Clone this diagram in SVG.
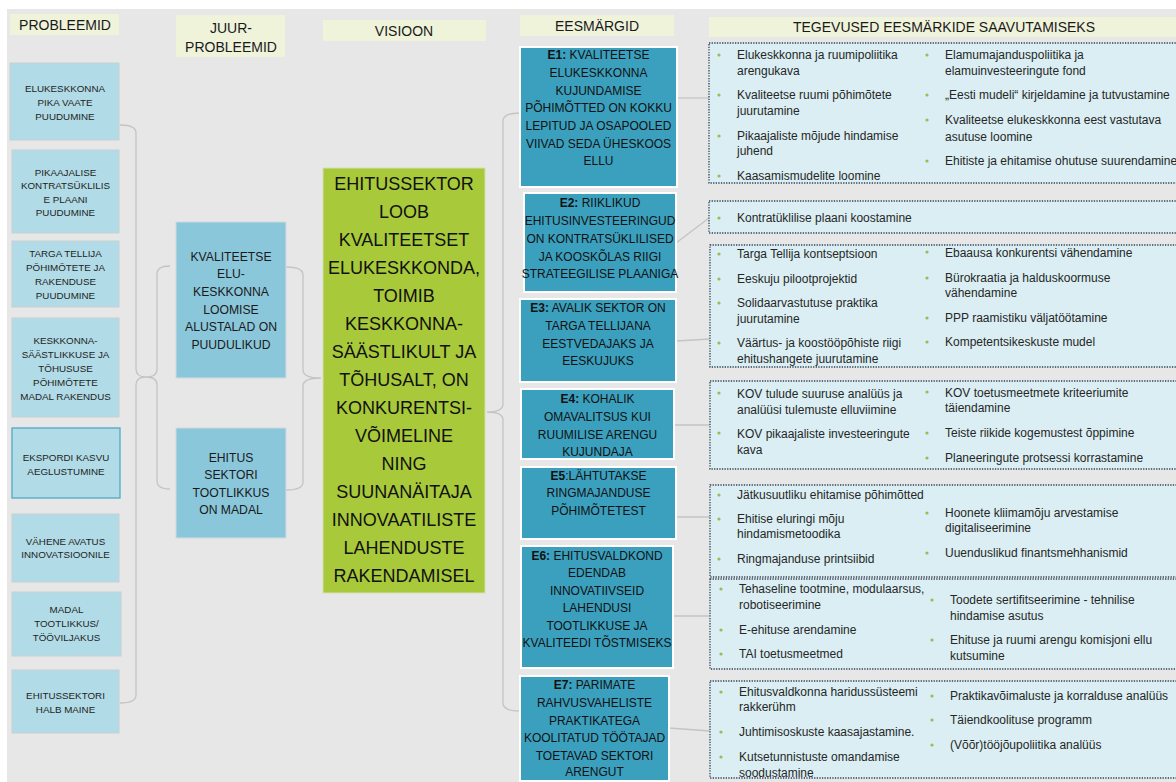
<svg xmlns="http://www.w3.org/2000/svg" width="1176" height="782" viewBox="0 0 1176 782">
<style>
text{font-family:"Liberation Sans",Arial,sans-serif}
.bg{fill:#e7e7e7}
.hdr{fill:#eff3da}
.ht{font-size:14px;fill:#1a1a1a;text-anchor:middle}
.prob{fill:#b1dbe6;stroke:#c9cfd2;stroke-width:1}
.prob2{fill:#b1dbe6;stroke:#4fa9c4;stroke-width:1.3}
.pt{font-size:9.8px;fill:#1f1f1f;text-anchor:middle}
.root{fill:#8bc7da;stroke:#d2dadd;stroke-width:1}
.rt{font-size:12.2px;fill:#1a1a1a;text-anchor:middle}
.vis{fill:#a8c93a;stroke:#d5e0b0;stroke-width:1}
.vt{font-size:18px;fill:#111;text-anchor:middle}
.goal{fill:#3ba0be;stroke:#ffffff;stroke-width:2}
.gt{font-size:12px;fill:#111;text-anchor:middle}
.act{fill:#daeef3;stroke:#2e4356;stroke-width:1.3;stroke-dasharray:1.3 1.3}
.at{font-size:12px;fill:#262626}
.dot{fill:#9bbb59}
.con{fill:none;stroke:#c4c4c4;stroke-width:1.3}
</style>
<rect x="0" y="0" width="1176" height="782" fill="#ffffff"/>
<rect class="bg" x="7" y="9" width="1169" height="773"/>

<!-- headers -->
<g id="hdr-probleemid"><rect class="hdr" x="10" y="14" width="109" height="21"/><text class="ht" x="65" y="29.5">PROBLEEMID</text></g>
<g id="hdr-juur"><rect class="hdr" x="176" y="15" width="109" height="42"/><text class="ht" x="231" y="33">JUUR-</text><text class="ht" x="231" y="52">PROBLEEMID</text></g>
<g id="hdr-visioon"><rect class="hdr" x="323" y="20" width="163" height="21"/><text class="ht" x="404" y="36">VISIOON</text></g>
<g id="hdr-eesmargid"><rect class="hdr" x="520" y="15" width="154" height="21"/><text class="ht" x="597" y="30.5">EESMÄRGID</text></g>
<g id="hdr-tegevused"><rect class="hdr" x="709" y="17" width="467" height="20"/><text class="ht" x="944" y="32">TEGEVUSED EESMÄRKIDE SAAVUTAMISEKS</text></g>

<!-- connectors -->
<g id="connectors">
<path class="con" d="M120 125 Q136 125 136 133 L136 369 Q136 377 146 377 Q136 377 136 385 L136 695 Q136 703 120 703"/>
<path class="con" d="M170 266 Q157 266 157 274 L157 369 Q157 377 146 377 Q157 377 157 385 L157 481 Q157 489 170 489"/>
<path class="con" d="M286 267 Q303 267 303 275 L303 370 Q303 378 321 378 Q303 378 303 386 L303 482 Q303 490 286 490"/>
<path class="con" d="M520 113 Q503 113 503 121 L503 404 Q503 412 487 412 Q503 412 503 420 L503 703 Q503 711 520 711"/>
<line class="con" x1="677" y1="98" x2="709" y2="98"/>
<line class="con" x1="676" y1="243" x2="709" y2="218"/>
<line class="con" x1="676" y1="341" x2="710" y2="339"/>
<line class="con" x1="674" y1="425" x2="710" y2="425"/>
<line class="con" x1="676" y1="517" x2="710" y2="517"/>
<line class="con" x1="673" y1="616" x2="712" y2="616"/>
<line class="con" x1="669" y1="728" x2="710" y2="731"/>
</g>

<!-- problems -->
<g id="p1"><rect class="prob" x="10" y="63" width="109" height="77"/><text class="pt" x="65" y="91.5">ELUKESKKONNA</text><text class="pt" x="65" y="105.5">PIKA VAATE</text><text class="pt" x="65" y="119.5">PUUDUMINE</text></g>
<g id="p2"><rect class="prob" x="12" y="150" width="107" height="83"/><text class="pt" x="65.5" y="175.5">PIKAAJALISE</text><text class="pt" x="65.5" y="189">KONTRATSÜKLILIS</text><text class="pt" x="65.5" y="202.5">E PLAANI</text><text class="pt" x="65.5" y="216">PUUDUMINE</text></g>
<g id="p3"><rect class="prob" x="12" y="241" width="107" height="66"/><text class="pt" x="65.5" y="256.5">TARGA TELLIJA</text><text class="pt" x="65.5" y="270.5">PÕHIMÕTETE JA</text><text class="pt" x="65.5" y="284.5">RAKENDUSE</text><text class="pt" x="65.5" y="298.5">PUUDUMINE</text></g>
<g id="p4"><rect class="prob" x="12" y="318" width="107" height="99"/><text class="pt" x="65.5" y="343.5">KESKKONNA-</text><text class="pt" x="65.5" y="357.5">SÄÄSTLIKKUSE JA</text><text class="pt" x="65.5" y="371.5">TÕHUSUSE</text><text class="pt" x="65.5" y="385.5">PÕHIMÕTETE</text><text class="pt" x="65.5" y="399.5">MADAL RAKENDUS</text></g>
<g id="p5"><rect class="prob2" x="12" y="428" width="108" height="70"/><text class="pt" x="66" y="460.5">EKSPORDI KASVU</text><text class="pt" x="66" y="474.5">AEGLUSTUMINE</text></g>
<g id="p6"><rect class="prob" x="12" y="514" width="107" height="68"/><text class="pt" x="65.5" y="544.5">VÄHENE AVATUS</text><text class="pt" x="65.5" y="557.5">INNOVATSIOONILE</text></g>
<g id="p7"><rect class="prob" x="12" y="592" width="109" height="64"/><text class="pt" x="66.5" y="612.5">MADAL</text><text class="pt" x="66.5" y="626.5">TOOTLIKKUS/</text><text class="pt" x="66.5" y="640.5">TÖÖVILJAKUS</text></g>
<g id="p8"><rect class="prob" x="12" y="670" width="107" height="63"/><text class="pt" x="65.5" y="698.5">EHITUSSEKTORI</text><text class="pt" x="65.5" y="712.5">HALB MAINE</text></g>

<!-- root problems -->
<g id="r1"><rect class="root" x="176" y="222" width="110" height="156"/>
<text class="rt" x="231" y="260.5">KVALITEETSE</text><text class="rt" x="231" y="278">ELU-</text><text class="rt" x="231" y="296">KESKKONNA</text><text class="rt" x="231" y="313.5">LOOMISE</text><text class="rt" x="231" y="331">ALUSTALAD ON</text><text class="rt" x="231" y="348.5">PUUDULIKUD</text></g>
<g id="r2"><rect class="root" x="176" y="428" width="110" height="110"/>
<text class="rt" x="231" y="461.5">EHITUS</text><text class="rt" x="231" y="479">SEKTORI</text><text class="rt" x="231" y="496.5">TOOTLIKKUS</text><text class="rt" x="231" y="514">ON MADAL</text></g>

<!-- vision -->
<g id="vision"><rect class="vis" x="323" y="168" width="162" height="425"/>
<text class="vt" x="404" y="189.5">EHITUSSEKTOR</text>
<text class="vt" x="404" y="217.5">LOOB</text>
<text class="vt" x="404" y="245.5">KVALITEETSET</text>
<text class="vt" x="404" y="273.5">ELUKESKKONDA,</text>
<text class="vt" x="404" y="301.5">TOIMIB</text>
<text class="vt" x="404" y="329.5">KESKKONNA-</text>
<text class="vt" x="404" y="357.5">SÄÄSTLIKULT JA</text>
<text class="vt" x="404" y="385.5">TÕHUSALT, ON</text>
<text class="vt" x="404" y="413.5">KONKURENTSI-</text>
<text class="vt" x="404" y="441.5">VÕIMELINE</text>
<text class="vt" x="404" y="469.5">NING</text>
<text class="vt" x="404" y="497.5">SUUNANÄITAJA</text>
<text class="vt" x="404" y="525.5">INNOVAATILISTE</text>
<text class="vt" x="404" y="553.5">LAHENDUSTE</text>
<text class="vt" x="404" y="581.5">RAKENDAMISEL</text></g>

<!-- goals -->
<g id="e1"><rect class="goal" x="520" y="47" width="157" height="140"/>
<text class="gt" x="598.5" y="59.2"><tspan font-weight="bold">E1:</tspan> KVALITEETSE</text>
<text class="gt" x="598.5" y="77">ELUKESKKONNA</text>
<text class="gt" x="598.5" y="94.5">KUJUNDAMISE</text>
<text class="gt" x="598.5" y="112.2">PÕHIMÕTTED ON KOKKU</text>
<text class="gt" x="598.5" y="130">LEPITUD JA OSAPOOLED</text>
<text class="gt" x="598.5" y="147.5">VIIVAD SEDA ÜHESKOOS</text>
<text class="gt" x="598.5" y="165.2">ELLU</text></g>
<g id="e2"><rect class="goal" x="524" y="193" width="152" height="99"/>
<text class="gt" x="600" y="207.2"><tspan font-weight="bold">E2:</tspan> RIIKLIKUD</text>
<text class="gt" x="600" y="225">EHITUSINVESTEERINGUD</text>
<text class="gt" x="600" y="242.5">ON KONTRATSÜKLILISED</text>
<text class="gt" x="600" y="260.5">JA KOOSKÕLAS RIIGI</text>
<text class="gt" x="600" y="278">STRATEEGILISE PLAANIGA</text></g>
<g id="e3"><rect class="goal" x="520" y="299" width="156" height="83"/>
<text class="gt" x="598" y="312.2"><tspan font-weight="bold">E3:</tspan> AVALIK SEKTOR ON</text>
<text class="gt" x="598" y="330">TARGA TELLIJANA</text>
<text class="gt" x="598" y="347.5">EESTVEDAJAKS JA</text>
<text class="gt" x="598" y="365.2">EESKUJUKS</text></g>
<g id="e4"><rect class="goal" x="521" y="389" width="153" height="70"/>
<text class="gt" x="597.5" y="403.2"><tspan font-weight="bold">E4:</tspan> KOHALIK</text>
<text class="gt" x="597.5" y="421">OMAVALITSUS KUI</text>
<text class="gt" x="597.5" y="438.5">RUUMILISE ARENGU</text>
<text class="gt" x="597.5" y="456.2">KUJUNDAJA</text></g>
<g id="e5"><rect class="goal" x="521" y="467" width="155" height="72"/>
<text class="gt" x="598.5" y="480.2"><tspan font-weight="bold">E5</tspan>:LÄHTUTAKSE</text>
<text class="gt" x="598.5" y="497.2">RINGMAJANDUSE</text>
<text class="gt" x="598.5" y="515.2">PÕHIMÕTETEST</text></g>
<g id="e6"><rect class="goal" x="521" y="546" width="152" height="122"/>
<text class="gt" x="597" y="560.2"><tspan font-weight="bold">E6:</tspan> EHITUSVALDKOND</text>
<text class="gt" x="597" y="577.2">EDENDAB</text>
<text class="gt" x="597" y="595.2">INNOVATIIVSEID</text>
<text class="gt" x="597" y="612.2">LAHENDUSI</text>
<text class="gt" x="597" y="630.2">TOOTLIKKUSE JA</text>
<text class="gt" x="597" y="647.2">KVALITEEDI TÕSTMISEKS</text></g>
<g id="e7"><rect class="goal" x="520" y="676" width="149" height="105"/>
<text class="gt" x="594.5" y="689.2"><tspan font-weight="bold">E7:</tspan> PARIMATE</text>
<text class="gt" x="594.5" y="707.2">RAHVUSVAHELISTE</text>
<text class="gt" x="594.5" y="725.2">PRAKTIKATEGA</text>
<text class="gt" x="594.5" y="742.2">KOOLITATUD TÖÖTAJAD</text>
<text class="gt" x="594.5" y="760.2">TOETAVAD SEKTORI</text>
<text class="gt" x="594.5" y="776.2">ARENGUT</text></g>

<!-- activities -->
<g id="a1"><rect class="act" x="709" y="43" width="480" height="140"/>
<circle class="dot" cx="719" cy="55" r="1.6"/><text class="at" x="737" y="59.2">Elukeskkonna ja ruumipoliitika</text><text class="at" x="737" y="75.2">arengukava</text>
<circle class="dot" cx="719" cy="95" r="1.6"/><text class="at" x="737" y="99.2">Kvaliteetse ruumi põhimõtete</text><text class="at" x="737" y="115.2">juurutamine</text>
<circle class="dot" cx="719" cy="136" r="1.6"/><text class="at" x="737" y="140.2">Pikaajaliste mõjude hindamise</text><text class="at" x="737" y="155.2">juhend</text>
<circle class="dot" cx="719" cy="176" r="1.6"/><text class="at" x="737" y="180.2">Kaasamismudelite loomine</text>
<circle class="dot" cx="927" cy="55" r="1.6"/><text class="at" x="945" y="59.2">Elamumajanduspoliitika ja</text><text class="at" x="945" y="75.2">elamuinvesteeringute fond</text>
<circle class="dot" cx="927" cy="95" r="1.6"/><text class="at" x="945" y="99.2">„Eesti mudeli“ kirjeldamine ja tutvustamine</text>
<circle class="dot" cx="927" cy="120" r="1.6"/><text class="at" x="945" y="124.2">Kvaliteetse elukeskkonna eest vastutava</text><text class="at" x="945" y="141.2">asutuse loomine</text>
<circle class="dot" cx="927" cy="161" r="1.6"/><text class="at" x="945" y="165.2">Ehitiste ja ehitamise ohutuse suurendamine</text></g>
<g id="a2"><rect class="act" x="709" y="201" width="480" height="32"/>
<circle class="dot" cx="719" cy="218" r="1.6"/><text class="at" x="737" y="222.2">Kontratüklilise plaani koostamine</text></g>
<g id="a3"><rect class="act" x="710" y="245" width="480" height="122"/>
<circle class="dot" cx="719" cy="254" r="1.6"/><text class="at" x="737" y="258.2">Targa Tellija  kontseptsioon</text>
<circle class="dot" cx="719" cy="279" r="1.6"/><text class="at" x="737" y="283.2">Eeskuju pilootprojektid</text>
<circle class="dot" cx="719" cy="303" r="1.6"/><text class="at" x="737" y="307.2">Solidaarvastutuse praktika</text><text class="at" x="737" y="323.2">juurutamine</text>
<circle class="dot" cx="719" cy="343" r="1.6"/><text class="at" x="737" y="347.2">Väärtus- ja koostööpõhiste riigi</text><text class="at" x="737" y="363.2">ehitushangete juurutamine</text>
<circle class="dot" cx="927" cy="252" r="1.6"/><text class="at" x="945" y="257.2">Ebaausa konkurentsi vähendamine</text>
<circle class="dot" cx="927" cy="278" r="1.6"/><text class="at" x="945" y="282.2">Bürokraatia ja halduskoormuse</text><text class="at" x="945" y="297.2">vähendamine</text>
<circle class="dot" cx="927" cy="318" r="1.6"/><text class="at" x="945" y="322.2">PPP raamistiku väljatöötamine</text>
<circle class="dot" cx="927" cy="342" r="1.6"/><text class="at" x="945" y="346.2">Kompetentsikeskuste mudel</text></g>
<g id="a4"><rect class="act" x="710" y="381" width="480" height="88"/>
<circle class="dot" cx="719" cy="393" r="1.6"/><text class="at" x="737" y="398.2">KOV tulude suuruse analüüs ja</text><text class="at" x="737" y="414.2">analüüsi tulemuste elluviimine</text>
<circle class="dot" cx="719" cy="433" r="1.6"/><text class="at" x="737" y="438.2">KOV pikaajaliste investeeringute</text><text class="at" x="737" y="454.2">kava</text>
<circle class="dot" cx="927" cy="392" r="1.6"/><text class="at" x="945" y="397.2">KOV toetusmeetmete  kriteeriumite</text><text class="at" x="945" y="412.2">täiendamine</text>
<circle class="dot" cx="927" cy="433" r="1.6"/><text class="at" x="945" y="437.2">Teiste riikide kogemustest õppimine</text>
<circle class="dot" cx="927" cy="458" r="1.6"/><text class="at" x="945" y="462.2">Planeeringute protsessi korrastamine</text></g>
<g id="a5"><rect class="act" x="710" y="485" width="480" height="92"/>
<circle class="dot" cx="719" cy="495" r="1.6"/><text class="at" x="737" y="499.2">Jätkusuutliku ehitamise  põhimõtted</text>
<circle class="dot" cx="719" cy="519" r="1.6"/><text class="at" x="737" y="523.2">Ehitise eluringi mõju</text><text class="at" x="737" y="538.2">hindamismetoodika</text>
<circle class="dot" cx="719" cy="559" r="1.6"/><text class="at" x="737" y="563.2">Ringmajanduse printsiibid</text>
<circle class="dot" cx="927" cy="513" r="1.6"/><text class="at" x="945" y="517.2">Hoonete kliimamõju arvestamise</text><text class="at" x="945" y="532.2">digitaliseerimine</text>
<circle class="dot" cx="927" cy="553" r="1.6"/><text class="at" x="945" y="557.2">Uuenduslikud finantsmehhanismid</text></g>
<g id="a6"><rect class="act" x="710" y="579" width="480" height="90"/>
<circle class="dot" cx="721" cy="589" r="1.6"/><text class="at" x="739" y="593.2">Tehaseline tootmine, modulaarsus,</text><text class="at" x="739" y="609.2">robotiseerimine</text>
<circle class="dot" cx="721" cy="630" r="1.6"/><text class="at" x="739" y="634.2">E-ehituse arendamine</text>
<circle class="dot" cx="721" cy="654" r="1.6"/><text class="at" x="739" y="658.2">TAI toetusmeetmed</text>
<circle class="dot" cx="932" cy="600" r="1.6"/><text class="at" x="950" y="604.2">Toodete sertifitseerimine  - tehnilise</text><text class="at" x="950" y="620.2">hindamise asutus</text>
<circle class="dot" cx="932" cy="640" r="1.6"/><text class="at" x="950" y="644.2">Ehituse ja ruumi arengu komisjoni ellu</text><text class="at" x="950" y="660.2">kutsumine</text></g>
<g id="a7"><rect class="act" x="710" y="681" width="480" height="97"/>
<circle class="dot" cx="721" cy="692" r="1.6"/><text class="at" x="739" y="696.2">Ehitusvaldkonna haridussüsteemi</text><text class="at" x="739" y="711.2">rakkerühm</text>
<circle class="dot" cx="721" cy="732" r="1.6"/><text class="at" x="739" y="736.2">Juhtimisoskuste kaasajastamine.</text>
<circle class="dot" cx="721" cy="757" r="1.6"/><text class="at" x="739" y="761.2">Kutsetunnistuste omandamise</text><text class="at" x="739" y="777.2">soodustamine</text>
<circle class="dot" cx="932" cy="696" r="1.6"/><text class="at" x="950" y="700.2">Praktikavõimaluste ja korralduse analüüs</text>
<circle class="dot" cx="932" cy="720" r="1.6"/><text class="at" x="950" y="724.2">Täiendkoolituse programm</text>
<circle class="dot" cx="932" cy="745" r="1.6"/><text class="at" x="950" y="749.2">(Võõr)tööjõupoliitika analüüs</text></g>
</svg>
